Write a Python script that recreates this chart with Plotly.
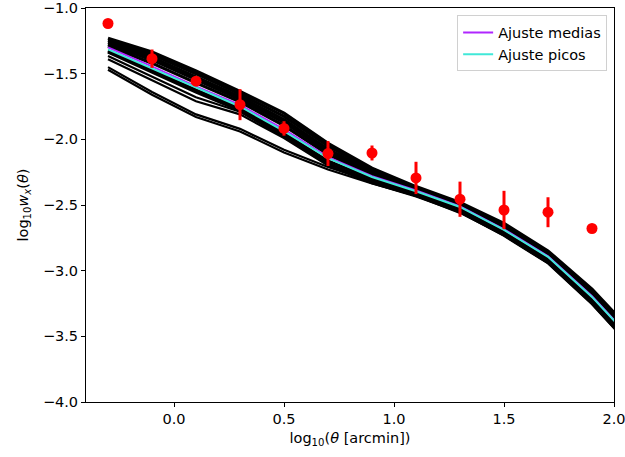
import plotly.graph_objects as go

# Observed points
obs_x = [-0.3, -0.1, 0.1, 0.3, 0.5, 0.7, 0.9, 1.1, 1.3, 1.5, 1.7, 1.9]
obs_y = [-1.118, -1.386, -1.557, -1.736, -1.917, -2.108, -2.104, -2.294, -2.456, -2.538, -2.555, -2.679]
obs_err = [0.02, 0.07, 0.035, 0.118, 0.055, 0.095, 0.057, 0.123, 0.134, 0.146, 0.114, 0.01]

# Model curves
model_x = [-0.3, -0.1, 0.1, 0.3, 0.5, 0.7, 0.9, 1.1, 1.3, 1.5, 1.7, 1.9, 2.1]
model_u1 = [-1.23, -1.335, -1.48, -1.635, -1.80, -2.03, -2.22, -2.36, -2.48, -2.64, -2.85, -3.14, -3.50]
model_u2 = [-1.245, -1.355, -1.50, -1.655, -1.825, -2.05, -2.235, -2.37, -2.49, -2.655, -2.865, -3.16, -3.52]
model_u3 = [-1.26, -1.375, -1.525, -1.675, -1.85, -2.075, -2.25, -2.38, -2.50, -2.665, -2.875, -3.175, -3.53]
model_u4 = [-1.275, -1.395, -1.545, -1.695, -1.87, -2.095, -2.26, -2.385, -2.505, -2.675, -2.885, -3.185, -3.545]
model_u5 = [-1.29, -1.42, -1.57, -1.715, -1.895, -2.115, -2.275, -2.39, -2.51, -2.68, -2.89, -3.19, -3.55]
model_l1 = [-1.325, -1.475, -1.625, -1.765, -1.955, -2.165, -2.30, -2.41, -2.53, -2.70, -2.91, -3.22, -3.58]
model_l2 = [-1.335, -1.49, -1.64, -1.78, -1.975, -2.185, -2.32, -2.425, -2.545, -2.72, -2.93, -3.24, -3.60]
model_m1 = [-1.365, -1.52, -1.68, -1.79, -1.98, -2.19, -2.33, -2.43, -2.55, -2.73, -2.94, -3.25, -3.62]
model_m2 = [-1.39, -1.55, -1.71, -1.81, -1.99, -2.20, -2.335, -2.435, -2.555, -2.735, -2.945, -3.255, -3.62]
model_low1 = [-1.45, -1.64, -1.81, -1.92, -2.08, -2.21, -2.32, -2.42, -2.55, -2.72, -2.93, -3.24, -3.60]
model_low2 = [-1.47, -1.66, -1.83, -1.94, -2.10, -2.23, -2.335, -2.43, -2.56, -2.73, -2.94, -3.25, -3.61]

fit_medias = [-1.30, -1.445, -1.597, -1.738, -1.925, -2.135, -2.28, -2.39, -2.51, -2.685, -2.89, -3.195, -3.555]
fit_picos = [-1.315, -1.46, -1.61, -1.75, -1.937, -2.143, -2.287, -2.395, -2.515, -2.69, -2.895, -3.20, -3.56]

band = [model_u1, model_u2, model_u3, model_u4, model_u5, model_l1, model_l2]
loose = [model_m1, model_m2, model_low1, model_low2]

fig = go.Figure()
for m in band:
    fig.add_trace(go.Scatter(x=model_x, y=m, mode="lines",
                             line=dict(color="black", width=3.2),
                             showlegend=False, hoverinfo="skip"))
for m in loose:
    fig.add_trace(go.Scatter(x=model_x, y=m, mode="lines",
                             line=dict(color="black", width=2.2),
                             showlegend=False, hoverinfo="skip"))

fig.add_trace(go.Scatter(x=model_x, y=fit_medias, mode="lines",
                         line=dict(color="#b026ff", width=2), name="Ajuste medias"))
fig.add_trace(go.Scatter(x=model_x, y=fit_picos, mode="lines",
                         line=dict(color="#40e8d8", width=2), name="Ajuste picos"))

fig.add_trace(go.Scatter(x=obs_x, y=obs_y, mode="markers",
                         marker=dict(color="red", size=11),
                         error_y=dict(type="data", array=obs_err, color="red",
                                      thickness=3, width=0),
                         showlegend=False))

FS = 14.5
axis_common = dict(showline=True, linecolor="black", linewidth=1, mirror=True,
                   ticks="outside", ticklen=4, tickcolor="black", tickwidth=1,
                   showgrid=False, zeroline=False, automargin=False,
                   ticklabeloverflow="allow",
                   tickfont=dict(family="DejaVu Sans", size=FS, color="black"))

fig.update_layout(
    width=625, height=457,
    margin=dict(l=86, r=11, t=8, b=55),
    paper_bgcolor="white", plot_bgcolor="white",
    font=dict(family="DejaVu Sans", size=FS, color="black"),
    xaxis=dict(range=[-0.4, 2.0], tickvals=[0.0, 0.5, 1.0, 1.5, 2.0], tickformat=".1f",
               title=dict(text="log<sub>10</sub>(<i>θ</i> [arcmin])", standoff=6,
                          font=dict(family="DejaVu Sans", size=FS)),
               **axis_common),
    yaxis=dict(range=[-4.0, -1.0], tickvals=[-4.0, -3.5, -3.0, -2.5, -2.0, -1.5, -1.0],
               tickformat=".1f",
               title=dict(text="log<sub>10</sub><i>w</i><sub><i>x</i></sub>(<i>θ</i>)", standoff=10,
                          font=dict(family="DejaVu Sans", size=FS)),
               **axis_common),
    legend=dict(x=0.987, y=0.981, xanchor="right", yanchor="top",
                bgcolor="rgba(255,255,255,0.8)", bordercolor="#d0d0d0", borderwidth=1,
                font=dict(family="DejaVu Sans", size=FS)),
    showlegend=True,
)

fig.write_html("out.html", config={"displayModeBar": False},
               post_script="document.body.style.margin='0';document.body.style.overflow='hidden';")
